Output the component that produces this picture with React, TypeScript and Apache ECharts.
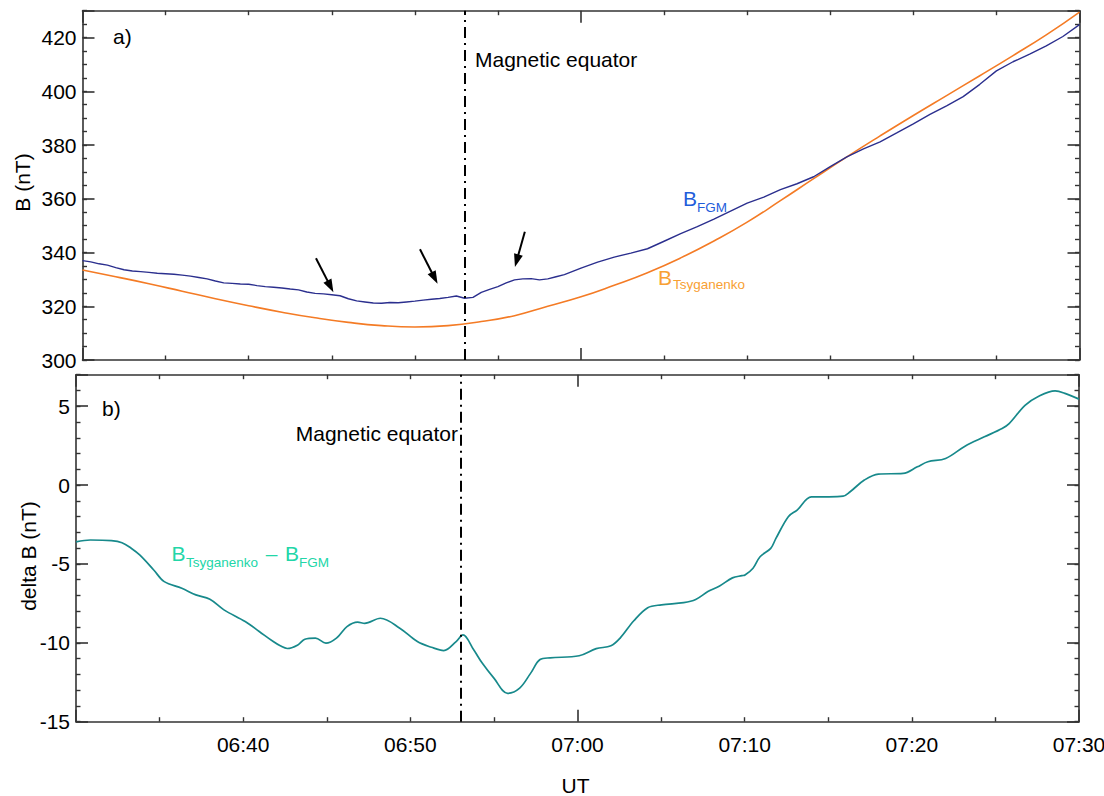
import React, { useEffect, useRef } from "react";
import * as echarts from "echarts";

// ---- data (minutes after 06:30 UT) ----
const FGM_TIME = [0,0.5,1,1.5,2,2.5,3,3.5,4,4.5,5,5.5,6,6.5,7,7.5,8,8.5,9,9.5,10,10.5,11,11.5,12,12.5,13,13.5,14,14.5,15,15.5,16,16.5,17,17.5,18,18.5,19,19.5,20,20.5,21,21.5,22,22.5,23,23.5,24,24.5,25,25.5,26,26.5,27,27.5,28,28.5,29,29.5,30,31,32,33,34,35,36,37,38,39,40,41,42,43,44,45,46,47,48,49,50,51,52,53,54,55,56,57,58,59,60];
const FGM_B = [337.0,336.5,335.8,335.3,334.4,333.6,333.1,332.9,332.6,332.3,332.1,331.9,331.6,331.2,330.7,330.2,329.4,328.7,328.5,328.3,328.2,327.7,327.3,327.1,326.8,326.4,326.1,325.3,324.8,324.6,324.3,323.9,322.8,322.0,321.6,321.2,321.1,321.4,321.3,321.6,321.9,322.3,322.6,322.9,323.3,323.8,323.0,323.3,325.2,326.3,327.3,328.7,329.8,330.2,330.3,329.8,330.2,331.0,331.8,333.0,334.2,336.4,338.3,339.8,341.4,344.2,347.0,349.6,352.4,355.4,358.4,360.6,363.4,365.6,368.2,372.0,375.6,378.6,381.2,384.5,387.9,391.4,394.6,398.0,402.6,407.6,411.0,413.8,416.9,420.4,424.8];

const TSY_TIME = [0,2,4,6,8,10,12,14,16,18,20,22,24,26,28,30,32,34,36,38,40,42,44,46,48,50,52,54,56,58,60];
const TSY_B = [333.5,331.0,328.4,325.6,322.8,320.2,317.8,315.7,314.0,312.8,312.3,312.8,314.3,316.5,320.0,323.5,327.8,332.5,338.0,344.3,351.3,359.3,367.5,375.6,383.4,391.0,398.4,405.8,413.3,421.0,429.5];

const DELTA_TIME = [0,0.86,2.12,2.75,3.3,3.81,4.65,5.28,6.33,7.17,8.01,8.85,10.12,10.96,11.8,12.22,12.64,13.27,13.69,14.32,14.95,15.58,16.21,16.85,17.27,18.21,19.37,20.42,21.26,22.0,22.74,23.15,23.79,24.31,25.0,25.82,26.54,27.2,27.76,28.36,30.1,31.12,32.0,32.55,33.37,34.2,35.02,36.35,37.07,37.8,38.5,39.27,39.84,40.02,40.5,40.92,41.56,41.87,42.61,43.14,43.99,45.04,45.89,46.31,47.16,48.0,49.48,50.33,50.96,52.02,53.18,54.34,55.4,55.82,56.77,57.51,58.57,59.2,60];
const DELTA_B = [-3.6,-3.48,-3.52,-3.65,-4.0,-4.43,-5.38,-6.12,-6.54,-6.96,-7.24,-7.91,-8.65,-9.28,-9.92,-10.19,-10.36,-10.13,-9.77,-9.7,-10.02,-9.7,-8.97,-8.69,-8.76,-8.44,-9.07,-9.92,-10.28,-10.49,-9.92,-9.49,-10.44,-11.3,-12.24,-13.2,-12.87,-11.92,-11.06,-10.95,-10.82,-10.37,-10.19,-9.7,-8.6,-7.77,-7.59,-7.45,-7.25,-6.75,-6.39,-5.88,-5.74,-5.7,-5.27,-4.54,-4.01,-3.38,-2.0,-1.58,-0.74,-0.74,-0.7,-0.42,0.32,0.7,0.74,1.16,1.48,1.69,2.47,3.06,3.59,3.9,5.06,5.59,5.97,5.8,5.45];

// annotation arrows: [t0, B0, t1, B1]
const ARROWS = [
  [14.05, 337.85, 14.92, 327.4],
  [20.31, 341.2, 21.19, 330.5],
  [26.62, 347.75, 26.13, 336.95],
];
const EQUATOR_T = 23.0;
const START_MIN = 6 * 60 + 30;

// ---- styles ----
const FONT = '"Liberation Sans", Arial, Helvetica, sans-serif';
const AXIS_COLOR = "#333333";
const FGM_COLOR = "#2b2f8e";
const TSY_COLOR = "#f47b25";
const DELTA_COLOR = "#17898b";
const FGM_LABEL = "#1f5ddb";
const TSY_LABEL = "#f8a033";
const DELTA_LABEL = "#22d6a8";

const pairs = (t: number[], v: number[]) => t.map((x, i) => [x, v[i]]);
const fmtUT = (v: number) => {
  const m = START_MIN + Math.round(v);
  const h = Math.floor(m / 60);
  const mm = m % 60;
  return (h < 10 ? "0" : "") + h + ":" + (mm < 10 ? "0" : "") + mm;
};

const lineStyle = { color: AXIS_COLOR, width: 1.6 };

const frameX = (gridIndex: number, position: string) => ({
  type: "value",
  gridIndex,
  position,
  min: 0,
  max: 60,
  interval: 30,
  axisLine: { show: true, onZero: false, lineStyle },
  axisTick: { show: true, inside: true, length: 12, lineStyle },
  minorTick: { show: true, splitNumber: 6, length: 4.5, lineStyle: { color: AXIS_COLOR, width: 1.4 } },
  axisLabel: { show: false },
  splitLine: { show: false },
  minorSplitLine: { show: false },
});

const majorY = (gridIndex: number, position: string, min: number, max: number, interval: number, labels: boolean) => ({
  type: "value",
  gridIndex,
  position,
  min,
  max,
  interval,
  axisLine: { show: true, onZero: false, lineStyle },
  axisTick: { show: true, inside: true, length: 12, lineStyle },
  axisLabel: {
    show: labels,
    margin: 6,
    fontSize: 21,
    fontFamily: FONT,
    color: "#000",
    formatter: (v: number) => (Math.abs(v % interval) < 1e-9 ? String(v) : ""),
  },
  splitLine: { show: false },
});

const minorY = (gridIndex: number, position: string, min: number, max: number, interval: number) => ({
  type: "value",
  gridIndex,
  position,
  min,
  max,
  interval,
  axisLine: { show: false, onZero: false },
  axisTick: { show: true, inside: true, length: 4.5, lineStyle: { color: AXIS_COLOR, width: 1.4 } },
  axisLabel: { show: false },
  splitLine: { show: false },
});

const txt = (text: string, x: number, y: number, size: number, fill: string, align = "left", rotation = 0) => ({
  type: "text",
  x,
  y,
  rotation,
  silent: true,
  style: {
    text,
    fill,
    fontSize: size,
    fontFamily: FONT,
    textAlign: align,
    textVerticalAlign: "middle",
    verticalAlign: "middle",
  },
});

const equatorMark = {
  silent: true,
  symbol: ["none", "none"],
  label: { show: false },
  lineStyle: { color: "#000", width: 2, type: [11, 5, 2, 5] },
  data: [{ xAxis: EQUATOR_T }],
};

export default function App() {
  const ref = useRef<HTMLDivElement>(null);

  useEffect(() => {
    if (!ref.current) return;
    const chart = echarts.init(ref.current, undefined, { renderer: "svg" });

    const option: any = {
      animation: false,
      backgroundColor: "#fff",
      textStyle: { fontFamily: FONT },
      grid: [
        { left: 82.5, top: 10.7, width: 997, height: 349.3, containLabel: false, outerBoundsMode: "none" },
        { left: 76, top: 374.7, width: 1003, height: 347, containLabel: false, outerBoundsMode: "none" },
      ],
      xAxis: [
        frameX(0, "bottom"),
        frameX(0, "top"),
        frameX(1, "bottom"),
        frameX(1, "top"),
        {
          type: "value",
          gridIndex: 1,
          position: "bottom",
          min: 0,
          max: 60,
          interval: 10,
          axisLine: { show: false, onZero: false },
          axisTick: { show: false },
          axisLabel: {
            show: true,
            margin: 12,
            fontSize: 21,
            fontFamily: FONT,
            color: "#000",
            formatter: (v: number) => (v === 0 ? "" : fmtUT(v)),
          },
          splitLine: { show: false },
        },
      ],
      yAxis: [
        majorY(0, "left", 300, 430, 20, true),
        minorY(0, "left", 300, 430, 5),
        majorY(0, "right", 300, 430, 20, false),
        minorY(0, "right", 300, 430, 5),
        majorY(1, "left", -15, 7, 5, true),
        minorY(1, "left", -15, 7, 1),
        majorY(1, "right", -15, 7, 5, false),
        minorY(1, "right", -15, 7, 1),
      ],
      series: [
        {
          name: "B_Tsyganenko",
          type: "line",
          xAxisIndex: 0,
          yAxisIndex: 0,
          data: pairs(TSY_TIME, TSY_B),
          showSymbol: false,
          smooth: 0.5,
          lineStyle: { color: TSY_COLOR, width: 1.6 },
          itemStyle: { color: TSY_COLOR },
          silent: true,
          z: 2,
          markLine: equatorMark,
        },
        {
          name: "B_FGM",
          type: "line",
          xAxisIndex: 0,
          yAxisIndex: 0,
          data: pairs(FGM_TIME, FGM_B),
          showSymbol: false,
          lineStyle: { color: FGM_COLOR, width: 1.4 },
          itemStyle: { color: FGM_COLOR },
          silent: true,
          z: 3,
          markLine: {
            silent: true,
            label: { show: false },
            lineStyle: { color: "#000", width: 2, type: "solid" },
            data: ARROWS.map((a) => [
              { coord: [a[0], a[1]], symbol: "none" },
              { coord: [a[2], a[3]], symbol: "triangle", symbolSize: [9, 13] },
            ]),
          },
        },
        {
          name: "delta B",
          type: "line",
          xAxisIndex: 2,
          yAxisIndex: 4,
          data: pairs(DELTA_TIME, DELTA_B),
          showSymbol: false,
          smooth: 0.35,
          lineStyle: { color: DELTA_COLOR, width: 1.7 },
          itemStyle: { color: DELTA_COLOR },
          silent: true,
          markLine: equatorMark,
        },
      ],
      graphic: [
        txt("a)", 113, 36, 21, "#000"),
        txt("b)", 102, 408, 21, "#000"),
        txt("Magnetic equator", 475, 59.7, 21, "#000"),
        txt("Magnetic equator", 458, 433.7, 21, "#000", "right"),
        txt("B", 683, 198.8, 21, FGM_LABEL),
        txt("FGM", 697, 207.5, 13.5, FGM_LABEL),
        txt("B", 658, 277, 21, TSY_LABEL),
        txt("Tsyganenko", 673, 284.7, 13.5, TSY_LABEL),
        txt("B", 171.5, 553.3, 21, DELTA_LABEL),
        txt("Tsyganenko", 186, 562, 13.5, DELTA_LABEL),
        txt("\u2013", 271.5, 553, 21, DELTA_LABEL, "center"),
        txt("B", 285, 553.3, 21, DELTA_LABEL),
        txt("FGM", 299, 562, 13.5, DELTA_LABEL),
        txt("B (nT)", 22.5, 182.5, 21, "#000", "center", Math.PI / 2),
        txt("delta B (nT)", 28, 556, 21, "#000", "center", Math.PI / 2),
        txt("UT", 575.5, 785, 21, "#000", "center"),
      ],
    };

    chart.setOption(option);
    return () => chart.dispose();
  }, []);

  return (
    <div
      ref={ref}
      style={{ position: "fixed", left: 0, top: 0, width: 1104, height: 796, background: "#fff" }}
    />
  );
}
